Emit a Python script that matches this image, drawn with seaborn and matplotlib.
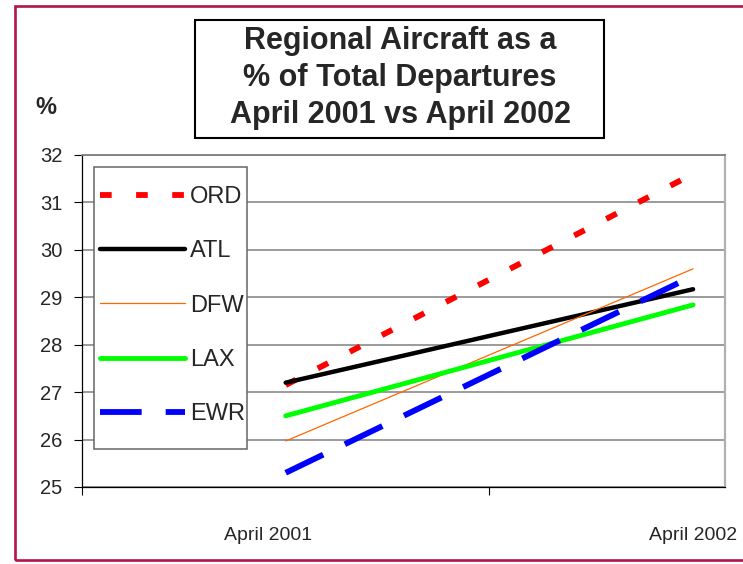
import matplotlib
matplotlib.use("Agg")
import matplotlib.pyplot as plt
from matplotlib.patches import Rectangle
from matplotlib.font_manager import FontProperties
import seaborn as sns
import pandas as pd

# ---- data ----
categories = ["April 2001", "April 2002"]
airports = ["ORD", "ATL", "DFW", "LAX", "EWR"]
ord_vals = [27.15, 31.6]
atl_vals = [27.2, 29.17]
dfw_vals = [25.97, 29.6]
lax_vals = [26.5, 28.84]
ewr_vals = [25.3, 29.45]
y_ticks = [25, 26, 27, 28, 29, 30, 31, 32]

series = {"ORD": ord_vals, "ATL": atl_vals, "DFW": dfw_vals, "LAX": lax_vals, "EWR": ewr_vals}

# ---- styles ----
colors = {"ORD": "#FF0000", "ATL": "#000000", "DFW": "#FF6600", "LAX": "#00FF00", "EWR": "#0000FF"}
widths = {"ORD": 4.2, "ATL": 3.2, "DFW": 0.9, "LAX": 3.5, "EWR": 4.2}
dash_styles = {"ORD": (8.4, 17.6), "EWR": (30.0, 17.3)}

sns.set_style("white")
plt.rcParams["lines.scale_dashes"] = False
plt.rcParams["font.family"] = ["Liberation Sans", "DejaVu Sans"]

W, H = 743, 564
fig = plt.figure(figsize=(W / 100, H / 100), dpi=100)
ax = fig.add_axes([82 / W, 1 - 487 / H, (725 - 82) / W, (487 - 155) / H])

handles = []
for name in airports:
    df = pd.DataFrame({"pos": list(range(len(categories))), "value": series[name]})
    before = len(ax.lines)
    sns.lineplot(data=df, x="pos", y="value", color=colors[name], lw=widths[name],
                 ax=ax, legend=False, zorder=3)
    line = ax.lines[before]
    if name in dash_styles:
        line.set_dashes(dash_styles[name])
        line.set_dash_capstyle("butt")
    else:
        line.set_solid_capstyle("round")
    handles.append(line)

ax.set_xlim(-0.4975, 1.0784)
ax.set_ylim(25, 32)
ax.set_xlabel("")
ax.set_ylabel("")

# grid
ax.set_yticks(y_ticks)
ax.yaxis.grid(True, color="#808080", lw=1.1, zorder=0)
ax.xaxis.grid(False)
ax.set_axisbelow(True)

tick_font = FontProperties(family="Liberation Sans", size=14.5)
ax.set_yticklabels([str(v) for v in y_ticks], fontproperties=tick_font)
ax.tick_params(axis="y", which="major", direction="out", length=6, width=0.8,
               color="black", pad=8, left=True)

# x: major ticks between categories, labels as minor ticks
ax.set_xticks([-0.5, 0.5])
ax.set_xticklabels(["", ""])
ax.tick_params(axis="x", which="major", direction="out", length=5.5, width=0.8,
               color="black", bottom=True)
ax.set_xticks([0 - 18 / 408, 1], minor=True)
xfont = FontProperties(family="Liberation Sans", size=14)
ax.set_xticklabels(categories, minor=True, fontproperties=xfont)
ax.tick_params(axis="x", which="minor", length=0, pad=29)

for s in ["left", "bottom"]:
    ax.spines[s].set_color("black")
    ax.spines[s].set_linewidth(0.9)
ax.spines["top"].set_color("#808080")
ax.spines["top"].set_linewidth(1.3)
ax.spines["right"].set_color("#B0B0B0")
ax.spines["right"].set_linewidth(1.6)
for s in ax.spines.values():
    s.set_visible(True)

# legend (frame drawn as a rectangle)
frame = Rectangle((94 / W, 1 - 449 / H), (247 - 94) / W, (449 - 167) / H,
                  transform=fig.transFigure, facecolor="white", edgecolor="#666666",
                  lw=1.1, zorder=4, clip_on=False)
ax.add_patch(frame)
leg = ax.legend(handles, airports, loc="upper left",
                bbox_to_anchor=(100 / W, 1 - 186 / H), bbox_transform=fig.transFigure,
                frameon=False, borderpad=0, borderaxespad=0, handlelength=3.6,
                handletextpad=0.2, labelspacing=1.37,
                prop=FontProperties(family="Liberation Sans", size=17))
leg.set_zorder(5)

# title box
fig.patches.append(Rectangle((195 / W, 1 - 138 / H), 409 / W, 118 / H,
                             transform=fig.transFigure, facecolor="white",
                             edgecolor="black", lw=1.5, zorder=1))
fig.text(400 / W, 1 - 78 / H,
         "Regional Aircraft as a\n% of Total Departures\nApril 2001 vs April 2002",
         ha="center", va="center", ma="center", fontsize=22, fontweight="bold",
         family="Liberation Sans", linespacing=1.31, zorder=2)

fig.text(46 / W, 1 - 108 / H, "%", ha="center", va="center", fontsize=17,
         fontweight="bold", family="Liberation Sans")

# outer border
fig.patches.append(Rectangle((15 / W, 1 - 560 / H), 900 / W, (560 - 6) / H,
                             transform=fig.transFigure, facecolor="none",
                             edgecolor="#B0154B", lw=1.9, zorder=0))

fig.savefig("out.png", dpi=100)
